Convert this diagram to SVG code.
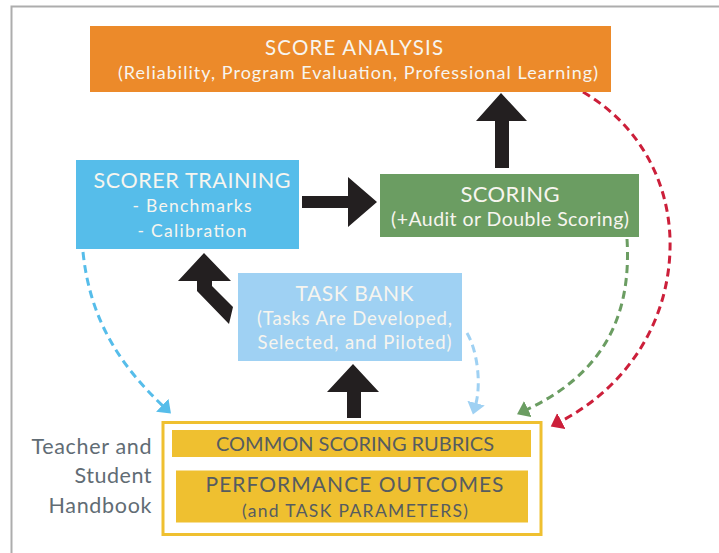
<svg xmlns="http://www.w3.org/2000/svg" width="719" height="553" viewBox="0 0 719 553">
  <style>
    .lbl { font-family: Lato, "Open Sans", "Liberation Sans", sans-serif; text-anchor: middle; }
    .light { fill: #f7f5ef; }
    .dark { fill: #565c60; }
    .side { font-family: Lato, "Open Sans", "Liberation Sans", sans-serif; text-anchor: end; fill: #616c74; font-size: 21.5px; }
    .flow { fill: #231f20; }
    .dash { fill: none; stroke-width: 3; stroke-dasharray: 8 5; }
  </style>
  <defs>
    <marker id="headBlue" markerUnits="userSpaceOnUse" markerWidth="15" markerHeight="20" refX="1" refY="9" orient="auto">
      <path d="M0,0 L12,9 L0,18 z" fill="#56bdea"/>
    </marker>
    <marker id="headPale" markerUnits="userSpaceOnUse" markerWidth="15" markerHeight="20" refX="1" refY="9" orient="auto">
      <path d="M0,0 L12,9 L0,18 z" fill="#9fd1f3"/>
    </marker>
    <marker id="headGreen" markerUnits="userSpaceOnUse" markerWidth="15" markerHeight="20" refX="1" refY="9" orient="auto">
      <path d="M0,0 L12,9 L0,18 z" fill="#6b9d62"/>
    </marker>
    <marker id="headRed" markerUnits="userSpaceOnUse" markerWidth="15" markerHeight="20" refX="1" refY="9" orient="auto">
      <path d="M0,0 L12,9 L0,18 z" fill="#cc1f3a"/>
    </marker>
  </defs>

  <rect width="719" height="553" fill="#ffffff"/>
  <!-- page frame -->
  <path d="M11.5,553 V6.5 H719" fill="none" stroke="#adadad" stroke-width="2"/>

  <!-- connectors -->
  <g id="connectors">
    <polygon class="flow" points="501,93 527,121 509,121 509,168 495,168 495,121 476,121"/>
    <polygon class="flow" points="302,196 348,196 348,177 377,202 348,227 348,208 302,208"/>
    <polygon class="flow" points="353,364 379,392 361,392 361,418 347,418 347,392 327,392"/>
    <polygon class="flow" points="204,253 231,281 212,281 212,286 233,307 229,324 197,291 197,281 178,281"/>
    <path class="dash" stroke="#56bdea" marker-end="url(#headBlue)" d="M83,252 C90,320 120,365 163,406"/>
    <path class="dash" stroke="#9fd1f3" marker-end="url(#headPale)" d="M467,333 C478,352 481,385 475.8,404"/>
    <path class="dash" stroke="#6b9d62" marker-end="url(#headGreen)" d="M627,239 C632,320 600,375 527,409.5"/>
    <path class="dash" stroke="#cc1f3a" marker-end="url(#headRed)" d="M583,92 C640,125 672,185 670,250 C668,320 630,385 560.5,421.5"/>
  </g>

  <g id="score-analysis">
    <rect x="90" y="26" width="521" height="66" fill="#ec8a2a"/>
    <text class="lbl light" x="354" y="55" font-size="20.5" textLength="178">SCORE ANALYSIS</text>
    <text class="lbl light" x="358" y="79" font-size="18" textLength="480">(Reliability, Program Evaluation, Professional Learning)</text>
  </g>

  <g id="scorer-training">
    <rect x="76" y="160" width="223" height="89" fill="#56bdea"/>
    <text class="lbl light" x="192" y="188" font-size="21.5" textLength="197">SCORER TRAINING</text>
    <text class="lbl light" x="192" y="212" font-size="17.5" textLength="119">- Benchmarks</text>
    <text class="lbl light" x="192" y="237" font-size="17.5" textLength="109">- Calibration</text>
  </g>

  <g id="scoring">
    <rect x="380" y="174" width="259" height="63" fill="#6b9d62"/>
    <text class="lbl light" x="510" y="202" font-size="22" textLength="99">SCORING</text>
    <text class="lbl light" x="510" y="226" font-size="19.5" textLength="238">(+Audit or Double Scoring)</text>
  </g>

  <g id="task-bank">
    <rect x="238" y="273" width="224" height="88" fill="#9fd1f3"/>
    <text class="lbl light" x="354.5" y="301" font-size="21" textLength="118">TASK BANK</text>
    <text class="lbl light" x="354.5" y="325" font-size="18.5" textLength="195">(Tasks Are Developed,</text>
    <text class="lbl light" x="354.5" y="349" font-size="18.5" textLength="194">Selected, and Piloted)</text>
  </g>

  <g id="handbook">
    <rect x="163" y="422.5" width="378" height="112" fill="none" stroke="#efc030" stroke-width="3"/>
    <rect x="172" y="430" width="359" height="27" fill="#efc030"/>
    <text class="lbl dark" x="355" y="451" font-size="20" textLength="278">COMMON SCORING RUBRICS</text>
    <rect x="176" y="470.5" width="352" height="52" fill="#efc030"/>
    <text class="lbl dark" x="354.5" y="492" font-size="21" textLength="298">PERFORMANCE OUTCOMES</text>
    <text class="lbl dark" x="355" y="516.5" font-size="17.5" textLength="226">(and TASK PARAMETERS)</text>
  </g>

  <g id="handbook-label">
    <text class="side" x="151.5" y="454" textLength="120">Teacher and</text>
    <text class="side" x="151.5" y="483" textLength="77">Student</text>
    <text class="side" x="151.5" y="512.5" textLength="103">Handbook</text>
  </g>
</svg>
